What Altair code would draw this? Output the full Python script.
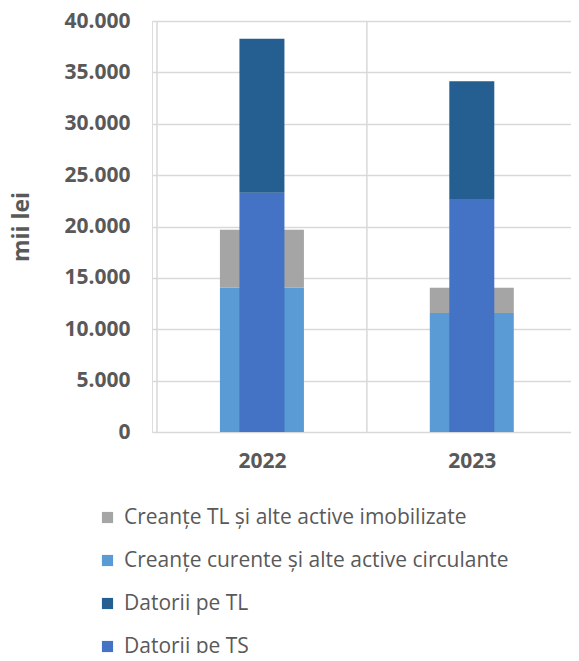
import altair as alt
import pandas as pd

years = ["2022", "2023"]
series = [
    "Creanțe TL și alte active imobilizate",
    "Creanțe curente și alte active circulante",
    "Datorii pe TL",
    "Datorii pe TS",
]
colors = ["#A5A5A5", "#5B9BD5", "#255E91", "#4472C4"]

creante_tl = [5640, 2470]
creante_curente = [14050, 11580]
datorii_tl = [14980, 11470]
datorii_ts = [23290, 22670]

y_ticks = [0, 5000, 10000, 15000, 20000, 25000, 30000, 35000, 40000]
boundaries = [0, 1, 2]

rows = []
for i, yr in enumerate(years):
    pos = i + 0.5
    rows.append({"year": yr, "pos": pos, "series": series[1], "value": creante_curente[i], "grp": "wide", "ord": 0})
    rows.append({"year": yr, "pos": pos, "series": series[0], "value": creante_tl[i], "grp": "wide", "ord": 1})
    rows.append({"year": yr, "pos": pos, "series": series[3], "value": datorii_ts[i], "grp": "narrow", "ord": 0})
    rows.append({"year": yr, "pos": pos, "series": series[2], "value": datorii_tl[i], "grp": "narrow", "ord": 1})
df = pd.DataFrame(rows)
bdf = pd.DataFrame({"b": boundaries})

W = 419
H = 411
xdom = [0, W / 215.0]

xscale = alt.Scale(domain=xdom, nice=False, zero=False)
yscale = alt.Scale(domain=[0, 40000], nice=False)

label_expr = "datum.value < 1 ? '" + years[0] + "' : '" + years[1] + "'"

color = alt.Color(
    "series:N",
    scale=alt.Scale(domain=series, range=colors),
    sort=series,
    legend=alt.Legend(
        title=None,
        orient="none",
        legendX=-55,
        legendY=486,
        direction="vertical",
        symbolType="square",
        symbolSize=125,
        symbolStrokeWidth=0,
        labelFontSize=21,
        labelFont="Open Sans",
        labelColor="#595959",
        labelOffset=6,
        rowPadding=21,
        padding=0,
        labelLimit=600,
    ),
)

vgrid = alt.Chart(bdf).mark_rule(color="#D9D9D9", strokeWidth=1.5).encode(
    x=alt.X("b:Q", scale=xscale)
)

base_x = alt.X(
    "pos:Q",
    scale=xscale,
    axis=alt.Axis(
        values=[0.5, 1.5],
        labelExpr=label_expr,
        grid=False,
        ticks=False,
        domain=False,
        title=None,
        labelFontSize=21,
        labelFont="Open Sans",
        labelFontWeight="bold",
        labelColor="#595959",
        labelPadding=18,
    ),
)
base_y = alt.Y(
    "value:Q",
    stack="zero",
    scale=yscale,
    axis=alt.Axis(
        values=y_ticks,
        labelExpr="replace(format(datum.value, ','), ',', '.')",
        grid=True,
        gridColor="#D9D9D9",
        gridWidth=1.5,
        ticks=False,
        domain=False,
        title="mii lei",
        titleFontSize=23,
        titleFont="Open Sans",
        titleFontWeight="bold",
        titleColor="#595959",
        titlePadding=30,
        labelFontSize=21,
        labelFont="Open Sans",
        labelFontWeight="bold",
        labelColor="#595959",
        labelPadding=22,
    ),
)

wide = alt.Chart(df).transform_filter(alt.datum.grp == "wide").mark_bar(size=84).encode(
    x=base_x, y=base_y, color=color, order=alt.Order("ord:Q")
)
narrow = alt.Chart(df).transform_filter(alt.datum.grp == "narrow").mark_bar(size=45).encode(
    x=base_x, y=base_y, color=color, order=alt.Order("ord:Q")
)

chart = alt.layer(vgrid, wide, narrow).properties(
    width=W,
    height=H,
    autosize=alt.AutoSizeParams(type="none"),
    padding={"left": 144, "top": 13, "right": 0, "bottom": 221},
).configure_view(stroke=None).configure(background="white")

chart.save("out.html", embed_options={"renderer": "svg", "actions": False})
